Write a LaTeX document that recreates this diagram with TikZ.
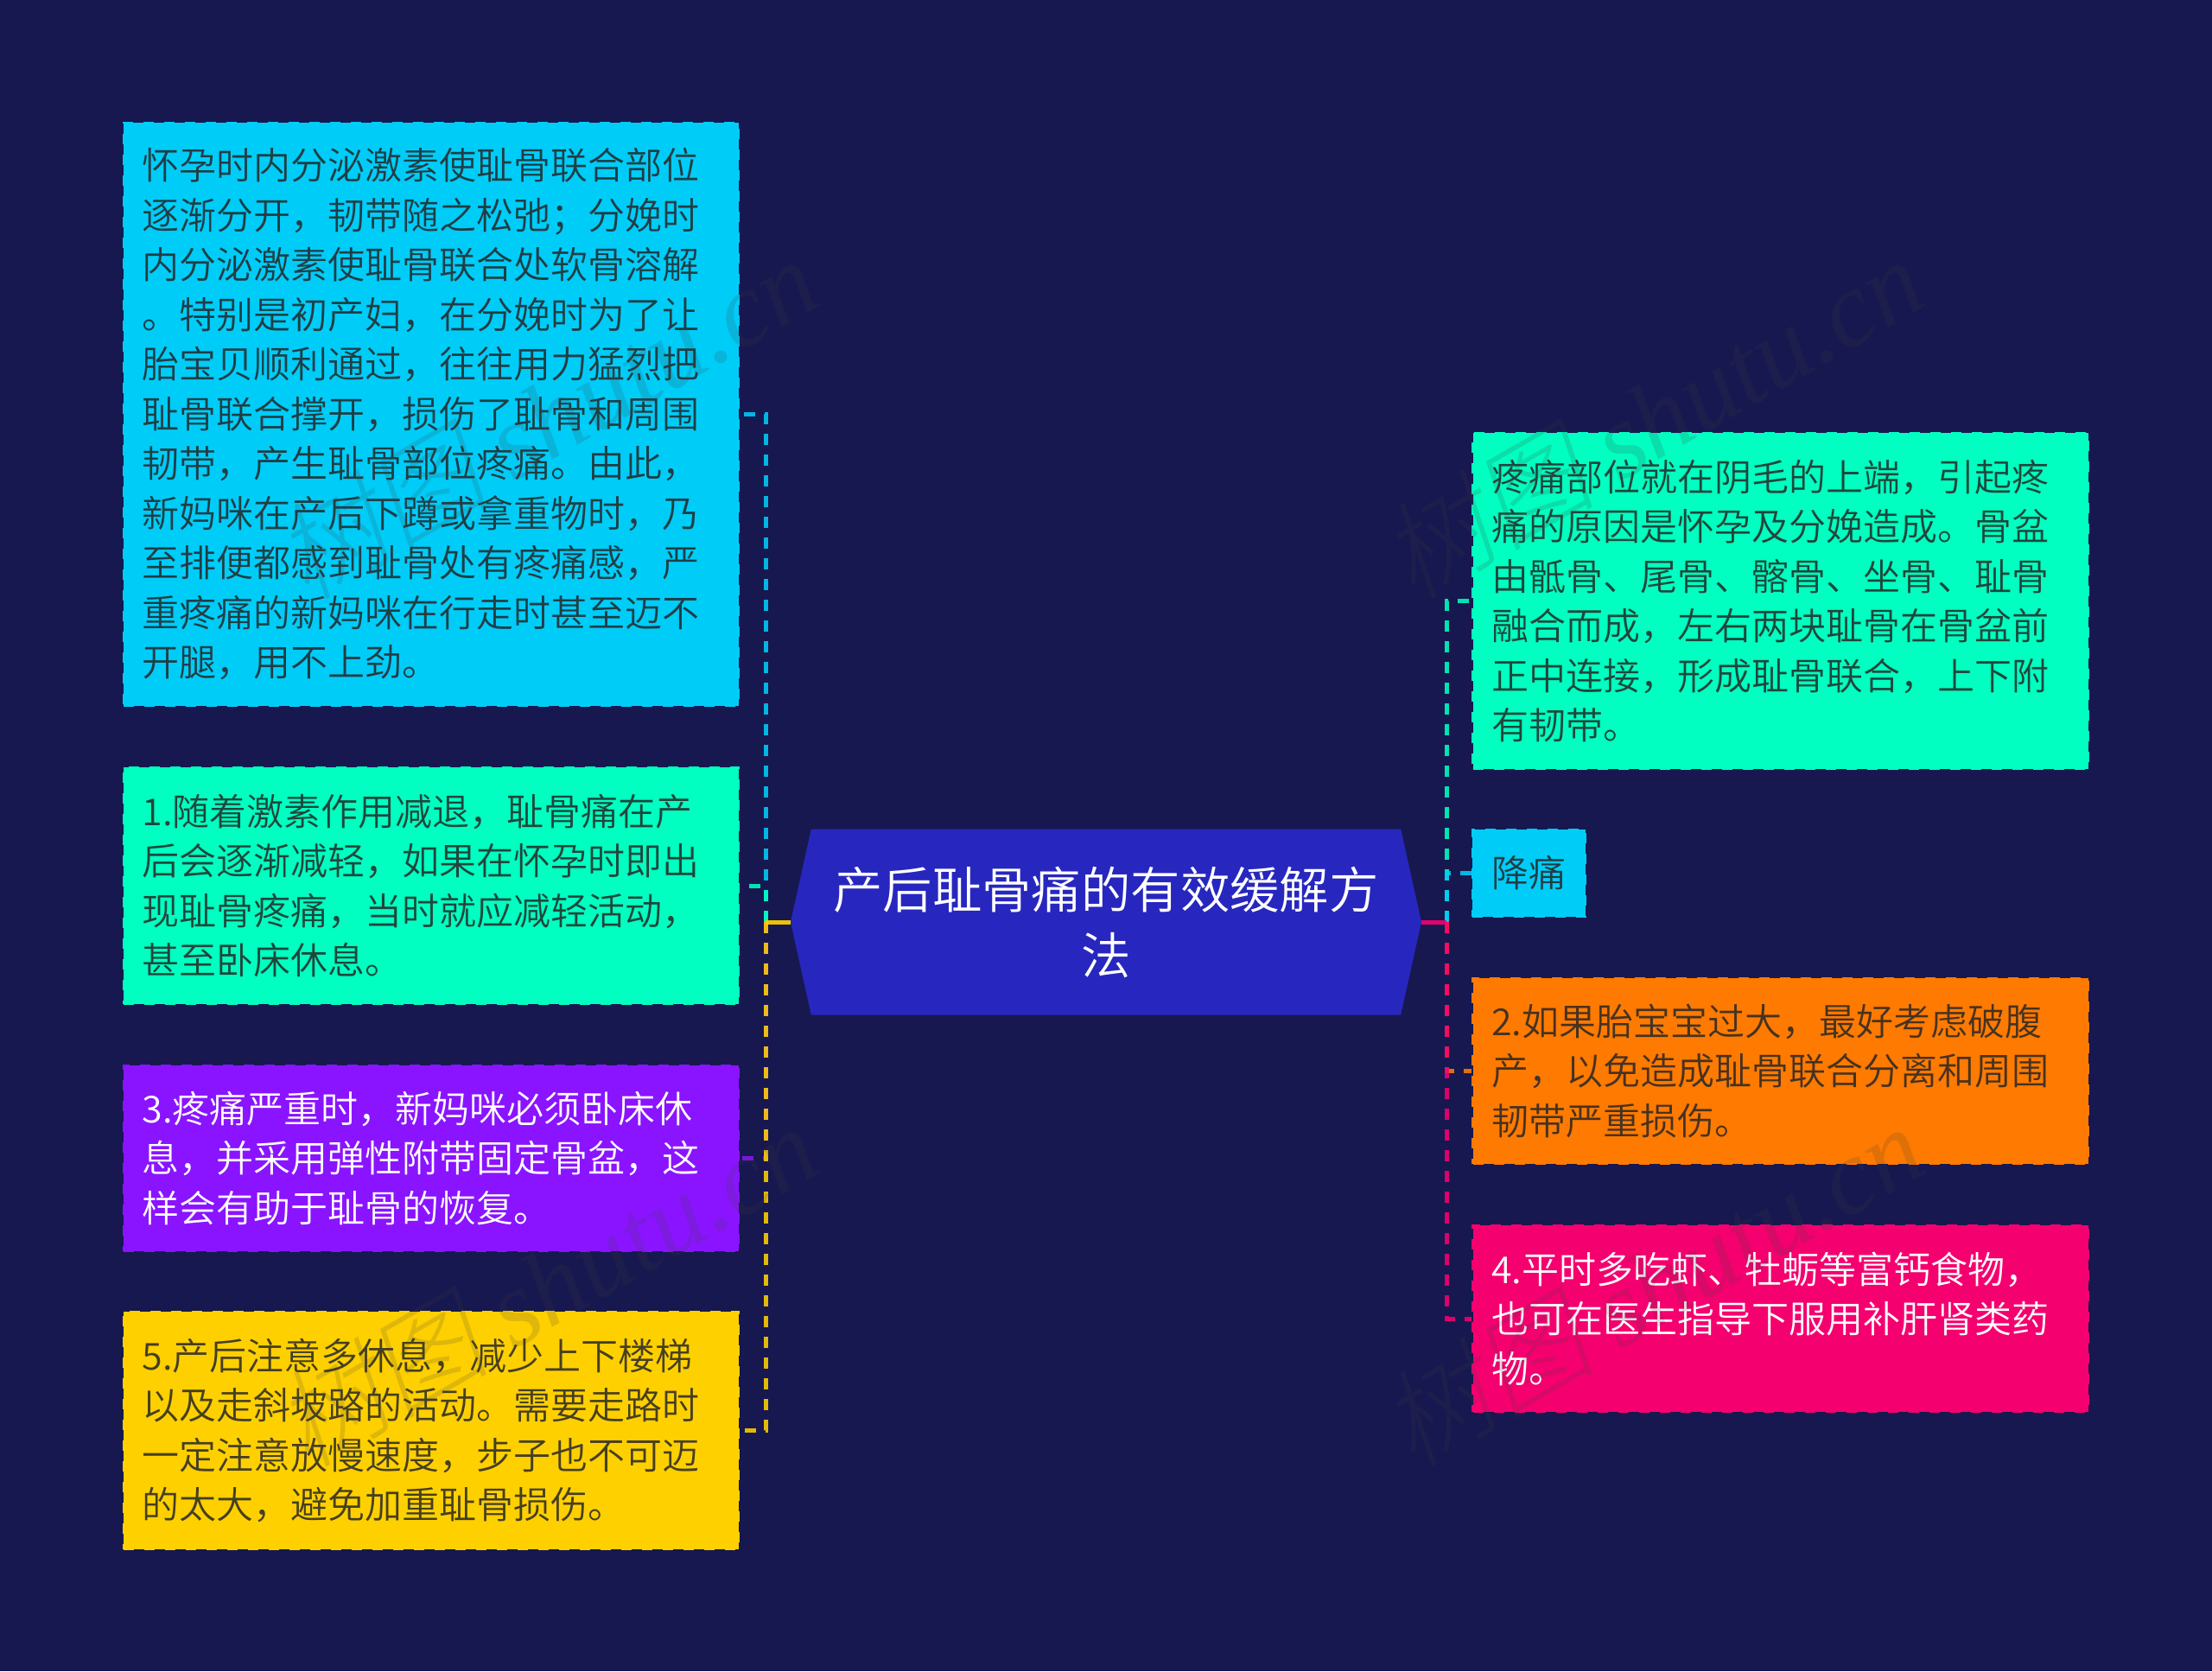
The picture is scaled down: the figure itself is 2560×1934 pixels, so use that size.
\documentclass[tikz,border=0pt]{standalone}
\usepackage{fontspec}
\setmainfont{Noto Sans CJK SC DemiLight}
\newfontfamily\wmlatin{Liberation Serif}
\newfontfamily\wmcjk[FakeSlant=0.2]{Noto Sans CJK SC Light}
\usetikzlibrary{shapes.symbols}
\definecolor{bgc}{HTML}{17184F}
\definecolor{hexc}{HTML}{2727BF}
\definecolor{cyanc}{HTML}{00CCF8}
\definecolor{greenc}{HTML}{00FFC0}
\definecolor{purplec}{HTML}{8A14FF}
\definecolor{yellowc}{HTML}{FFD000}
\definecolor{orangec}{HTML}{FF7A00}
\definecolor{pinkc}{HTML}{F5006F}
\definecolor{wmc}{HTML}{404040}
\tikzset{
  boxn/.style={rectangle,fill=#1,draw=#1,line width=1.2pt,dash pattern=on 6pt off 6pt,
    inner xsep=10pt,inner ysep=0pt,align=left,anchor=center,minimum width=356pt,
    font=\fontsize{21.5}{28.75}\selectfont},
  darktxt/.style={text=black!85,text opacity=.85,text width=334.5pt},
  lighttxt/.style={text=white,text width=334.5pt},
  conn/.style={draw=#1,line width=2.5pt,dash pattern=on 6.5pt off 5.5pt,draw opacity=.88},
  stem/.style={draw=#1,line width=2.5pt,draw opacity=.92},
  hexn/.style={shape=signal,signal to=west and east,signal pointer angle=155,fill=hexc,
    text=white,inner sep=0pt,minimum width=365pt,minimum height=107.5pt,align=center,
    font=\fontsize{28.7}{38}\selectfont},
  wm/.style={text=wmc,text opacity=.17,rotate=30,anchor=base west,inner sep=0pt,
    font=\fontsize{62}{62}\selectfont}
}
\begin{document}
\begin{tikzpicture}[x=0.5pt,y=-0.5pt]
\useasboundingbox (0,0) rectangle (2560,1934);
\fill[bgc] (0,0) rectangle (2560,1934);

\node[hexn] (hex) at (1280,1067) {产后耻骨痛的有效缓解方\\法};
\coordinate (jl) at (886,1067);
\coordinate (jr) at (1674,1067);

\node[boxn=cyanc,darktxt,minimum height=337.5pt] (b1) at (499,479.5) {怀孕时内分泌激素使耻骨联合部位\\逐渐分开，韧带随之松弛；分娩时\\内分泌激素使耻骨联合处软骨溶解\\。特别是初产妇，在分娩时为了让\\胎宝贝顺利通过，往往用力猛烈把\\耻骨联合撑开，损伤了耻骨和周围\\韧带，产生耻骨部位疼痛。由此，\\新妈咪在产后下蹲或拿重物时，乃\\至排便都感到耻骨处有疼痛感，严\\重疼痛的新妈咪在行走时甚至迈不\\开腿，用不上劲。};
\node[boxn=greenc,darktxt,minimum height=137pt] (b2) at (499,1025) {1.随着激素作用减退，耻骨痛在产\\后会逐渐减轻，如果在怀孕时即出\\现耻骨疼痛，当时就应减轻活动，\\甚至卧床休息。};
\node[boxn=purplec,lighttxt,minimum height=107.5pt] (b3) at (499,1340.5) {3.疼痛严重时，新妈咪必须卧床休\\息，并采用弹性附带固定骨盆，这\\样会有助于耻骨的恢复。};
\node[boxn=yellowc,darktxt,minimum height=137.5pt] (b4) at (499,1655.5) {5.产后注意多休息，减少上下楼梯\\以及走斜坡路的活动。需要走路时\\一定注意放慢速度，步子也不可迈\\的太大，避免加重耻骨损伤。};

\node[boxn=greenc,darktxt,minimum height=194.5pt] (r1) at (2060.5,695.5) {疼痛部位就在阴毛的上端，引起疼\\痛的原因是怀孕及分娩造成。骨盆\\由骶骨、尾骨、髂骨、坐骨、耻骨\\融合而成，左右两块耻骨在骨盆前\\正中连接，形成耻骨联合，上下附\\有韧带。};
\node[boxn=cyanc,text=black!85,text opacity=.85,minimum width=65.5pt,minimum height=50.5pt] (r2) at (1769.5,1010.5) {降痛};
\node[boxn=orangec,darktxt,minimum height=107.5pt] (r3) at (2060.5,1239.5) {2.如果胎宝宝过大，最好考虑破腹\\产，以免造成耻骨联合分离和周围\\韧带严重损伤。};
\node[boxn=pinkc,lighttxt,minimum height=108pt] (r4) at (2060.5,1526) {4.平时多吃虾、牡蛎等富钙食物，\\也可在医生指导下服用补肝肾类药\\物。};

\draw[conn=cyanc] (jl) |- (b1.east);
\draw[conn=greenc] (jl) |- (b2.east);
\draw[conn=purplec] (jl) |- (b3.east);
\draw[conn=yellowc] (jl) |- (b4.east);
\draw[stem=yellowc] (hex.west) -- (jl);

\draw[conn=greenc] (jr) |- (r1.west);
\draw[conn=cyanc] (jr) |- (r2.west);
\draw[conn=orangec] (jr) |- (r3.west);
\draw[conn=pinkc] (jr) |- (r4.west);
\draw[stem=pinkc] (hex.east) -- (jr);

\foreach \wx/\wy/\wn in {355/697/a,1635/697/b,355/1701/c,1635/1701/d}
  \node[wm] (wm\wn) at (\wx,\wy) {{\wmcjk 树图} {\wmlatin\itshape shutu.cn}};
\end{tikzpicture}
\end{document}
